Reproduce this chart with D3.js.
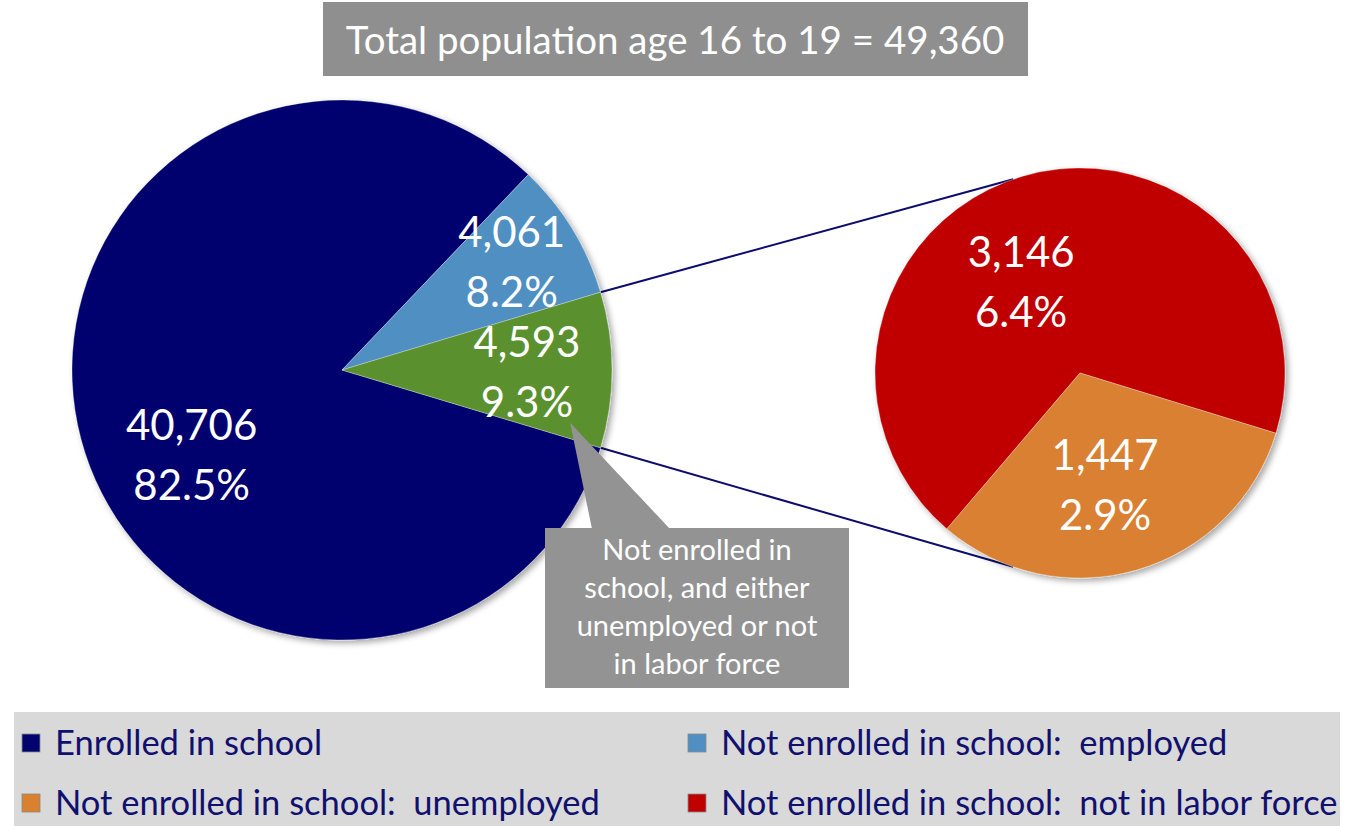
<!DOCTYPE html>
<html>
<head>
<meta charset="utf-8">
<script src="https://cdn.jsdelivr.net/npm/d3@7"></script>
<style>
  body { margin: 0; background: #fff; }
  text { font-family: Lato, "Open Sans", sans-serif; white-space: pre; }
</style>
</head>
<body>
<svg width="1346" height="826"></svg>
<script>
// data
var mainCats = ['Enrolled in school', 'Not enrolled in school:  employed', 'Not enrolled'];
var mainValues = [40706, 4061, 4593];
var subCats = ['Not enrolled in school:  not in labor force', 'Not enrolled in school:  unemployed'];
var subValues = [3146, 1447];
var total = 49360;
var legendCats = ['Enrolled in school', 'Not enrolled in school:  employed',
  'Not enrolled in school:  unemployed', 'Not enrolled in school:  not in labor force'];
var titleText = 'Total population age 16 to 19 = 49,360';
var calloutLines = ['Not enrolled in', 'school, and either', 'unemployed or not', 'in labor force'];

var mainColors = ['#03036e', '#4f8fc2', '#5a902f'];
var subColors = ['#c00000', '#d98031'];
var legendColors = ['#03036e', '#4f8fc2', '#d98031', '#c00000'];

var svg = d3.select('svg'),
  rad = Math.PI / 180,
  fmtN = d3.format(','),
  fmtP = d3.format('.1%');

var defs = svg.append('defs');
defs.append('filter').attr('id', 'shadow')
  .attr('x', '-10%').attr('y', '-10%').attr('width', '130%').attr('height', '130%')
  .append('feDropShadow')
  .attr('dx', 3).attr('dy', 3).attr('stdDeviation', 3)
  .attr('flood-color', '#000').attr('flood-opacity', 0.35);

// title
svg.append('rect')
  .attr('x', 323).attr('y', 2).attr('width', 705).attr('height', 74)
  .attr('fill', '#8f8f8f');
svg.append('text')
  .attr('x', 675).attr('y', 54)
  .attr('text-anchor', 'middle')
  .attr('fill', '#fff')
  .attr('font-size', 38.5)
  .text(titleText);

// layout
var mainC = [342, 370], mainR = 270;
var subC = [1080, 373], subR = 205;

// green slice centred on 3 o'clock
var greenSpan = mainValues[2] / total * 360;
var mainStart = (90 + greenSpan / 2) * rad;

var mainPie = d3.pie().sort(null)
  .startAngle(mainStart).endAngle(mainStart + 2 * Math.PI)(mainValues);
var subStart = 220.5 * rad;
var subPie = d3.pie().sort(null)
  .startAngle(subStart).endAngle(subStart + 2 * Math.PI)(subValues);

var mainArc = d3.arc().innerRadius(0).outerRadius(mainR);
var subArc = d3.arc().innerRadius(0).outerRadius(subR);

function polar(c, r, a) {
  return [c[0] + r * Math.sin(a), c[1] - r * Math.cos(a)];
}

// connector lines
var g1 = mainPie[2];
var conn = [
  [polar(mainC, mainR, g1.startAngle), polar(subC, subR, -19 * rad)],
  [polar(mainC, mainR, g1.endAngle), polar(subC, subR, 199 * rad)]
];
svg.selectAll('line.conn')
  .data(conn)
  .enter().append('line')
  .attr('class', 'conn')
  .attr('x1', function(d) { return d[0][0]; })
  .attr('y1', function(d) { return d[0][1]; })
  .attr('x2', function(d) { return d[1][0]; })
  .attr('y2', function(d) { return d[1][1]; })
  .attr('stroke', '#0c0c6e')
  .attr('stroke-width', 2);

// main pie
var gm = svg.append('g')
  .attr('transform', 'translate(' + mainC + ')')
  .attr('filter', 'url(#shadow)');
gm.selectAll('path')
  .data(mainPie)
  .enter().append('path')
  .attr('d', mainArc)
  .attr('fill', function(d, i) { return mainColors[i]; })
  .attr('stroke', 'rgba(255,255,255,0.3)')
  .attr('stroke-width', 1);

// sub pie
var gs = svg.append('g')
  .attr('transform', 'translate(' + subC + ')')
  .attr('filter', 'url(#shadow)');
gs.selectAll('path')
  .data(subPie)
  .enter().append('path')
  .attr('d', subArc)
  .attr('fill', function(d, i) { return subColors[i]; })
  .attr('stroke', 'rgba(255,255,255,0.3)')
  .attr('stroke-width', 1);

// slice labels: radius fraction and angle shift (deg) from the slice middle
var mainLab = [[0.64, -14.7], [0.745, -0.9], [0.685, 0.6]];
var subLab = [[0.527, -16.8], [0.56, 3.6]];

function labels(arcs, c, r, pos) {
  arcs.forEach(function(d, i) {
    var a = (d.startAngle + d.endAngle) / 2 + pos[i][1] * rad;
    var p = polar(c, r * pos[i][0], a);
    var t = svg.append('text')
      .attr('text-anchor', 'middle')
      .attr('fill', '#fff')
      .attr('font-size', 42);
    t.append('tspan').attr('x', p[0]).attr('y', p[1] - 15).text(fmtN(d.value));
    t.append('tspan').attr('x', p[0]).attr('y', p[1] + 45).text(fmtP(d.value / total));
  });
}
labels(mainPie, mainC, mainR, mainLab);
labels(subPie, subC, subR, subLab);

// callout
var tip = polar(mainC, mainR * 0.867, 103 * rad);
svg.append('path')
  .attr('d', 'M' + tip + 'L670,529L592,529Z')
  .attr('fill', '#939393');
svg.append('rect')
  .attr('x', 545).attr('y', 528).attr('width', 304).attr('height', 160)
  .attr('fill', '#939393');
svg.append('text')
  .attr('text-anchor', 'middle')
  .attr('fill', '#fff')
  .attr('font-size', 29)
  .selectAll('tspan')
  .data(calloutLines)
  .enter().append('tspan')
  .attr('x', 697)
  .attr('y', function(d, i) { return 560 + i * 38; })
  .text(function(d) { return d; });

// legend
svg.append('rect')
  .attr('x', 14).attr('y', 712).attr('width', 1326).attr('height', 114)
  .attr('fill', '#d9d9d9');
var leg = svg.selectAll('g.leg')
  .data(legendCats)
  .enter().append('g')
  .attr('class', 'leg')
  .attr('transform', function(d, i) {
    return 'translate(' + (i % 2 ? 688 : 22) + ',' + (i < 2 ? 743 : 803) + ')';
  });
leg.append('rect')
  .attr('x', 0).attr('y', -9).attr('width', 18).attr('height', 18)
  .attr('fill', function(d, i) { return legendColors[i]; })
  .attr('stroke', '#8a8a8a').attr('stroke-width', 0.8);
leg.append('text')
  .attr('x', 33).attr('y', 12)
  .attr('fill', '#10106e')
  .attr('font-size', 34.5)
  .text(function(d) { return d; });
</script>
</body>
</html>
